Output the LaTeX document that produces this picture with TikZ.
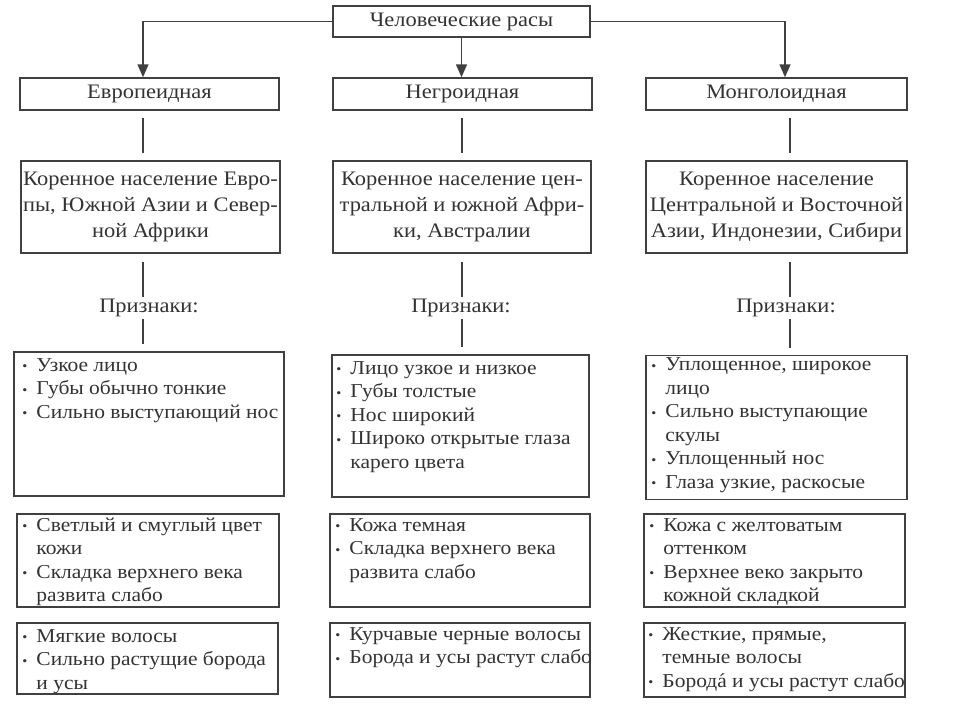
\documentclass[tikz,border=0pt]{standalone}
\usepackage{fontspec}
\setmainfont{Liberation Serif}[FakeStretch=1.09]
\usetikzlibrary{arrows.meta,calc}
\definecolor{lc}{gray}{0.25}
\definecolor{tc}{gray}{0.2}
\newcommand\fs{\fontsize{19.7}{23.5}\selectfont}
\newcommand\fsh{\fontsize{20.6}{26}\selectfont}
\newcommand\bul{\makebox[14pt][l]{\fontsize{13}{13}\selectfont\raisebox{0.8pt}{•}}}
\newcommand\ind{\hspace*{14pt}}
\newcommand\fl{\rule{0pt}{16pt}}
\newcommand\acc[1]{{\ooalign{#1\cr\hidewidth\char"B4\hidewidth\cr}}}
\begin{document}
\begin{tikzpicture}[x=1pt,y=-1pt,
  bx/.style={draw=lc, line width=1.5pt, inner sep=0pt, text=tc, font=\fsh, align=center},
  lst/.style={anchor=north west, inner sep=0pt, align=left, text=tc, font=\fs},
  lbl/.style={inner sep=0pt, minimum height=22pt, text=tc, font=\fsh},
  conn/.style={draw=lc, line width=1.5pt},
  arr/.style={conn, -{Triangle[length=13pt,width=11pt]}}]
\useasboundingbox[fill=white] (0,0) rectangle (960,720);

% top
\node[bx, minimum width=257pt, minimum height=31pt] (top) at (461.5,21.5) {Человеческие расы};
% level 2
\node[bx, minimum width=259pt, minimum height=32pt] (eu) at (149.5,94) {Европеидная};
\node[bx, minimum width=259pt, minimum height=32pt] (ne) at (462.5,94) {Негроидная};
\node[bx, minimum width=261pt, minimum height=32pt] (mo) at (776.5,94) {Монголоидная};
\draw[arr] (top.west) -| ([xshift=-6.5pt]eu.north);
\draw[arr] (top.south) -- (top.south |- ne.north);
\draw[arr] (top.east) -| ([xshift=8.5pt]mo.north);

% level 3
\node[bx, minimum width=259pt, minimum height=92pt] (eu3) at (150.5,207)
  {Коренное население Евро-\\пы, Южной Азии и Север-\\ной Африки};
\node[bx, minimum width=258pt, minimum height=92pt] (ne3) at (462,207)
  {Коренное население цен-\\тральной и южной Афри-\\ки, Австралии};
\node[bx, minimum width=261pt, minimum height=92pt] (mo3) at (776.5,207)
  {Коренное население\\Центральной и Восточной\\Азии, Индонезии, Сибири};

\draw[conn] ($(eu.south)+(-6.5,7)$) coordinate (a1) -- ($(a1 |- eu3.north)+(0,-7)$);
\draw[conn] ($(ne.south)+(-0.5,7)$) coordinate (b1) -- ($(b1 |- ne3.north)+(0,-7)$);
\draw[conn] ($(mo.south)+(13.5,7)$) coordinate (c1) -- ($(c1 |- mo3.north)+(0,-7)$);

% Priznaki
\node[lbl] (eup) at (149,308) {Признаки:};
\node[lbl] (nep) at (461,308) {Признаки:};
\node[lbl] (mop) at (786,308) {Признаки:};

% level 4 boxes
\node[bx, minimum width=270pt, minimum height=144pt] (eu4) at (149,424) {};
\node[bx, minimum width=257pt, minimum height=142pt] (ne4) at (460.5,426) {};
\node[bx, minimum width=261pt, minimum height=144pt] (mo4) at (776.5,427.5) {};

\draw[conn] ($(eu3.south)+(-7.5,8)$) coordinate (a2) -- (a2 |- eup.north);
\draw[conn] (a2 |- eup.south) -- ($(a2 |- eu4.north)+(0,-7)$);
\draw[conn] ($(ne3.south)+(0,8)$) coordinate (b2) -- (b2 |- nep.north);
\draw[conn] (b2 |- nep.south) -- ($(b2 |- ne4.north)+(0,-7)$);
\draw[conn] ($(mo3.south)+(13.5,8)$) coordinate (c2) -- (c2 |- mop.north);
\draw[conn] (c2 |- mop.south) -- ($(c2 |- mo4.north)+(0,-7)$);

\node[lst] (eu4t) at ($(eu4.north west)+(9,4)$) {\fl\bul Узкое лицо\\\bul Губы обычно тонкие\\\bul Сильно выступающий нос};
\node[lst] (ne4t) at ($(ne4.north west)+(5,4)$) {\fl\bul Лицо узкое и низкое\\\bul Губы толстые\\\bul Нос широкий\\\bul Широко открытые глаза\\\ind карего цвета};
\node[lst] (mo4t) at ($(mo4.north west)+(6,0)$) {\fl\bul Уплощенное, широкое\\\ind лицо\\\bul Сильно выступающие\\\ind скулы\\\bul Уплощенный нос\\\bul Глаза узкие, раскосые};

% level 5
\node[bx, minimum width=262pt, minimum height=93pt] (eu5) at (148,560.5) {};
\node[bx, minimum width=260pt, minimum height=93pt] (ne5) at (460,560.5) {};
\node[bx, minimum width=261pt, minimum height=93pt] (mo5) at (774.5,560.5) {};
\node[lst] (eu5t) at ($(eu5.north west)+(6,2)$) {\fl\bul Светлый и смуглый цвет\\\ind кожи\\\bul Складка верхнего века\\\ind развита слабо};
\node[lst] (ne5t) at ($(ne5.north west)+(6,2)$) {\fl\bul Кожа темная\\\bul Складка верхнего века\\\ind развита слабо};
\node[lst] (mo5t) at ($(mo5.north west)+(6,2)$) {\fl\bul Кожа с желтоватым\\\ind оттенком\\\bul Верхнее веко закрыто\\\ind кожной складкой};

% level 6
\node[bx, minimum width=261pt, minimum height=71pt] (eu6) at (147.5,658.5) {};
\node[bx, minimum width=260pt, minimum height=74pt] (ne6) at (460,660) {};
\node[bx, minimum width=261pt, minimum height=74pt] (mo6) at (774.5,660) {};
\node[lst] (eu6t) at ($(eu6.north west)+(6,4)$) {\fl\bul Мягкие волосы\\\bul Сильно растущие борода\\\ind и усы};
\node[lst] (ne6t) at ($(ne6.north west)+(6,2)$) {\fl\bul Курчавые черные волосы\\\bul Борода и усы растут слабо};
\node[lst] (mo6t) at ($(mo6.north west)+(5,2)$) {\fl\bul Жесткие, прямые,\\\ind темные волосы\\\bul Бород\acc{а} и усы растут слабо};
\end{tikzpicture}
\end{document}
